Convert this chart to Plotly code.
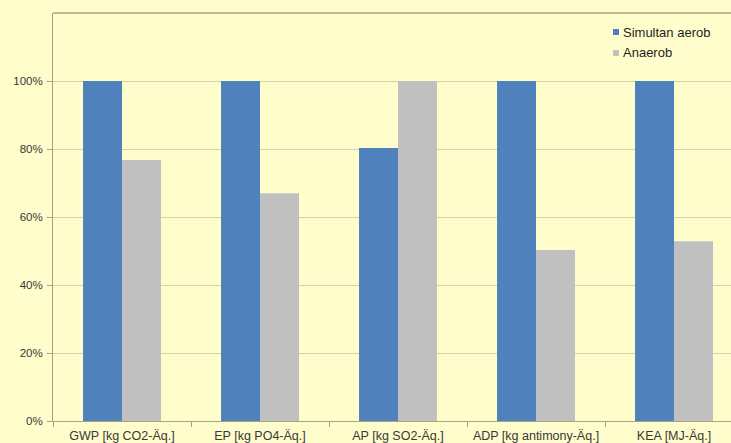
import plotly.graph_objects as go

# Impact categories and relative results (share of the larger value per category)
categories = ["GWP [kg CO2-Äq.]", "EP [kg PO4-Äq.]", "AP [kg SO2-Äq.]",
              "ADP [kg antimony-Äq.]", "KEA [MJ-Äq.]"]
simultan_aerob = [1.00, 1.00, 0.803, 1.00, 1.00]
anaerob = [0.768, 0.67, 1.00, 0.503, 0.529]
series_names = ["Simultan aerob", "Anaerob"]
y_ticks = [0, 0.2, 0.4, 0.6, 0.8, 1.0]
y_ticklabels = ["0%", "20%", "40%", "60%", "80%", "100%"]

BLUE = "#4F81BD"
GREY = "#C0C0C0"
BG = "#FFFDCC"
AXIS = "#A8A47C"
GRID = "#D6D2A4"
TEXT = "#383838"
FONT = "Liberation Sans, Arial, sans-serif"

fig = go.Figure()
fig.add_trace(go.Bar(x=categories, y=simultan_aerob, name=series_names[0],
                     marker=dict(color=BLUE, line=dict(width=0))))
fig.add_trace(go.Bar(x=categories, y=anaerob, name=series_names[1],
                     marker=dict(color=GREY, line=dict(width=0))))

fig.update_layout(
    width=731, height=443,
    margin=dict(l=53, r=0, t=13, b=22),
    paper_bgcolor=BG, plot_bgcolor=BG,
    barmode="group", bargap=0.435, bargroupgap=0,
    showlegend=False,
    font=dict(family=FONT, color=TEXT, size=12),
)
fig.update_xaxes(
    type="category", range=[-0.5, 4.413],
    showline=True, linecolor=AXIS, linewidth=1,
    ticks="outside", tickson="boundaries", ticklen=5, tickcolor=AXIS,
    ticklabelstandoff=3,
    showgrid=False, tickfont=dict(size=12.5, color=TEXT), fixedrange=True,
)
fig.update_yaxes(
    range=[0, 1.2], tickvals=y_ticks, ticktext=y_ticklabels,
    showline=True, linecolor=AXIS, linewidth=1,
    ticks="outside", ticklen=5, tickcolor=AXIS,
    ticklabelstandoff=2,
    showgrid=True, gridcolor=GRID, gridwidth=1, zeroline=False,
    tickfont=dict(size=11.5, color=TEXT),
)

# top border of the plot area
fig.add_shape(type="line", xref="paper", yref="paper", x0=0, x1=1, y0=1, y1=1,
              line=dict(color=AXIS, width=1.5))

# legend: small colour squares with labels
legend_y = [32, 53]
for name, color, ypx in zip(series_names, [BLUE, GREY], legend_y):
    yp = 1 - (ypx - 13) / (421 - 13)
    fig.add_shape(type="rect", xref="paper", yref="paper",
                  x0=(613 - 53) / 678, x1=(619 - 53) / 678,
                  y0=yp - 3 / 408, y1=yp + 3 / 408,
                  fillcolor=color, line=dict(width=0))
    fig.add_annotation(text=name, xref="paper", yref="paper",
                       x=(621 - 53) / 678, y=yp, xanchor="left", yanchor="middle",
                       showarrow=False, font=dict(size=13, color="#1E1E1E"))

fig.write_html("out.html")
